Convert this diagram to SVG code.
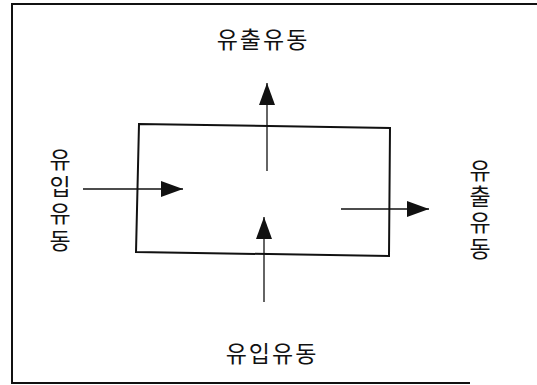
<svg xmlns="http://www.w3.org/2000/svg" width="537" height="385" viewBox="0 0 537 385">
<style>
.frame{fill:none;stroke:#111;stroke-width:2}
.box{fill:none;stroke:#111;stroke-width:2;stroke-linejoin:miter}
.conn{fill:none;stroke:#111;stroke-width:1.3}
.lbl{font-family:"Noto Sans CJK KR","Noto Sans",sans-serif;font-size:23px;fill:#111;text-anchor:middle;dominant-baseline:central}
.vert{writing-mode:vertical-rl;text-orientation:upright}
</style>
<defs>
<marker id="ah" viewBox="0 0 22 16" refX="22" refY="8" markerWidth="22" markerHeight="16" markerUnits="userSpaceOnUse" orient="auto">
<path d="M0,0 L22,8 L0,16 Z" fill="#111"/>
</marker>
</defs>
<rect width="537" height="385" fill="#fff"/>
<g id="frame">
<path class="frame" d="M537,4 L12,4 L12,383 L470,383"/>
</g>
<g id="control-volume">
<path class="box" d="M139,124 L390,128 L389,256 L136,252 Z"/>
</g>
<g id="connectors">
<path class="conn" d="M267,171 L267,83" marker-end="url(#ah)"/>
<path class="conn" d="M264,302 L264,217" marker-end="url(#ah)"/>
<path class="conn" d="M83,189 L183,189" marker-end="url(#ah)"/>
<path class="conn" d="M341,209 L429,209" marker-end="url(#ah)"/>
</g>
<g id="label-top">
<text class="lbl" x="263" y="38" letter-spacing="2">유출유동</text>
</g>
<g id="label-bottom">
<text class="lbl" x="272" y="352" letter-spacing="2">유입유동</text>
</g>
<g id="label-left">
<text class="lbl vert" x="60" y="202" letter-spacing="4">유입유동</text>
</g>
<g id="label-right">
<text class="lbl vert" x="480" y="211" letter-spacing="3">유출유동</text>
</g>
</svg>
